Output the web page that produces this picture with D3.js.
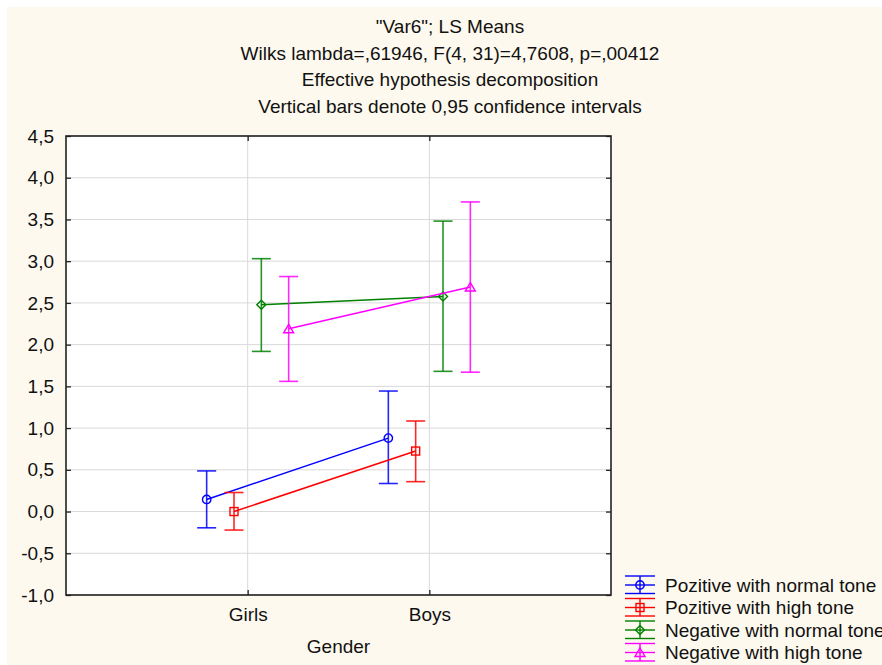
<!DOCTYPE html>
<html>
<head>
<meta charset="utf-8">
<script src="https://cdn.jsdelivr.net/npm/d3@7"></script>
<style>
  body { margin: 0; background: #fff; }
  text { font-family: "Liberation Sans", Arial, sans-serif; fill: #111; }
</style>
</head>
<body>
<svg width="882" height="665"></svg>
<script>
// LS means per group, with 0.95 CI bounds
var genders = ["Girls", "Boys"];
var seriesNames = ["Pozitive with normal tone", "Pozitive with high tone",
                   "Negative with normal tone", "Negative with high tone"];
var seriesColors = ["#0000ff", "#ff0000", "#008000", "#ff00ff"];
var seriesMarkers = ["circle", "square", "diamond", "triangle"];
var means = [[0.145, 0.88], [0.0, 0.725], [2.477, 2.577], [2.19, 2.69]];
var lower = [[-0.195, 0.336], [-0.222, 0.358], [1.919, 1.68], [1.56, 1.67]];
var upper = [[0.487, 1.444], [0.228, 1.085], [3.03, 3.48], [2.816, 3.71]];
var yTicks = [-1, -0.5, 0, 0.5, 1, 1.5, 2, 2.5, 3, 3.5, 4, 4.5];
var titleLines = ['"Var6"; LS Means',
                  "Wilks lambda=,61946, F(4, 31)=4,7608, p=,00412",
                  "Effective hypothesis decomposition",
                  "Vertical bars denote 0,95 confidence intervals"];

var svg = d3.select("svg");
var pl = 66, pr = 611, pt = 136, pb = 595;
var fs = "19px";

// background: white strip on left/top, cream panel
svg.append("rect").attr("x", 7).attr("y", 7).attr("width", 875).attr("height", 658)
  .attr("fill", "#fdf9ee");
svg.append("rect").attr("x", pl).attr("y", pt)
  .attr("width", pr - pl).attr("height", pb - pt).attr("fill", "#fff");

var x = d3.scalePoint().domain(genders).range([pl, pr]).padding(1);
var off = d3.scalePoint().domain(seriesNames).range([-41, 41]);
var y = d3.scaleLinear().domain([-1, 4.5]).range([pb, pt]);

var loc = d3.formatLocale({decimal: ",", thousands: ".", grouping: [3], currency: ["", ""], minus: "-"});
var fmt = loc.format(".1f");

// grid
svg.append("g").selectAll("line").data(yTicks).join("line")
  .attr("x1", pl).attr("x2", pr)
  .attr("y1", d => y(d)).attr("y2", d => y(d))
  .attr("stroke", "#d9d9d9").attr("stroke-width", 1);
svg.append("g").selectAll("line").data(genders).join("line")
  .attr("x1", d => x(d)).attr("x2", d => x(d))
  .attr("y1", pt).attr("y2", pb)
  .attr("stroke", "#d9d9d9").attr("stroke-width", 1);

// axes with inward ticks
function clean(g) {
  g.select(".domain").remove();
  g.selectAll(".tick line").attr("stroke", "#222").attr("stroke-width", 1.3);
  g.selectAll("text").style("font-size", fs)
    .style("font-family", '"Liberation Sans", Arial, sans-serif').attr("fill", "#111");
}
svg.append("g").attr("transform", "translate(" + pl + ",0)")
  .call(d3.axisLeft(y).tickValues(yTicks).tickFormat(fmt).tickSize(-5).tickPadding(12))
  .call(clean);
svg.append("g").attr("transform", "translate(" + pr + ",0)")
  .call(d3.axisRight(y).tickValues(yTicks).tickFormat("").tickSize(-5))
  .call(clean);
svg.append("g").attr("transform", "translate(0," + pb + ")")
  .call(d3.axisBottom(x).tickSize(-5).tickPadding(13))
  .call(clean);
svg.append("g").attr("transform", "translate(0," + pt + ")")
  .call(d3.axisTop(x).tickFormat("").tickSize(-5))
  .call(clean);

svg.append("rect").attr("x", pl).attr("y", pt)
  .attr("width", pr - pl).attr("height", pb - pt)
  .attr("fill", "none").attr("stroke", "#222").attr("stroke-width", 1.6);

// markers
function marker(g, type, color) {
  if (type === "circle") {
    g.append("circle").attr("r", 4.2);
  } else if (type === "square") {
    g.append("rect").attr("x", -4).attr("y", -4).attr("width", 8).attr("height", 8);
  } else if (type === "diamond") {
    g.append("path").attr("d", "M0,-4.5L4.5,0L0,4.5L-4.5,0Z");
  } else {
    g.append("path").attr("d", "M0,-4.5L5,4L-5,4Z");
  }
  g.selectAll("*").attr("fill", "none").attr("stroke", color).attr("stroke-width", 1.4);
}

var capW = 9.5;
seriesNames.forEach(function(name, i) {
  var color = seriesColors[i];
  var g = svg.append("g");
  var px = d => x(genders[d]) + off(name);
  var idx = d3.range(genders.length);

  // error bars
  idx.forEach(function(j) {
    var cx = px(j);
    g.append("line").attr("x1", cx).attr("x2", cx)
      .attr("y1", y(lower[i][j])).attr("y2", y(upper[i][j]));
    [lower[i][j], upper[i][j]].forEach(function(v) {
      g.append("line").attr("x1", cx - capW).attr("x2", cx + capW)
        .attr("y1", y(v)).attr("y2", y(v));
    });
  });
  g.selectAll("line").attr("stroke", color).attr("stroke-width", 1.6).attr("stroke-opacity", 0.85);

  g.append("path")
    .datum(idx)
    .attr("d", d3.line().x(px).y(j => y(means[i][j])))
    .attr("fill", "none").attr("stroke", color).attr("stroke-width", 1.5);

  idx.forEach(function(j) {
    var m = g.append("g").attr("transform", "translate(" + px(j) + "," + y(means[i][j]) + ")");
    marker(m, seriesMarkers[i], color);
  });
});

// titles
svg.append("g").selectAll("text").data(titleLines).join("text")
  .attr("x", 450).attr("y", (d, i) => 33 + i * 26.5)
  .attr("text-anchor", "middle").style("font-size", fs).text(d => d);

svg.append("text").attr("x", (pl + pr) / 2).attr("y", 653)
  .attr("text-anchor", "middle").style("font-size", fs).text("Gender");

// legend
var lg = svg.append("g").selectAll("g").data(seriesNames).join("g")
  .attr("transform", (d, i) => "translate(640," + (585 + i * 22.5) + ")");
lg.each(function(name, i) {
  var g = d3.select(this);
  var color = seriesColors[i];
  [-9, 0, 8.5].forEach(function(dy) {
    g.append("line").attr("x1", -15).attr("x2", 15).attr("y1", dy).attr("y2", dy);
  });
  g.append("line").attr("x1", 0).attr("x2", 0).attr("y1", -9).attr("y2", 8.5);
  g.selectAll("line").attr("stroke", color).attr("stroke-width", 1.4);
  marker(g.append("g"), seriesMarkers[i], color);
  g.append("text").attr("x", 25).attr("y", 6.5).style("font-size", fs).text(name);
});
</script>
</body>
</html>
